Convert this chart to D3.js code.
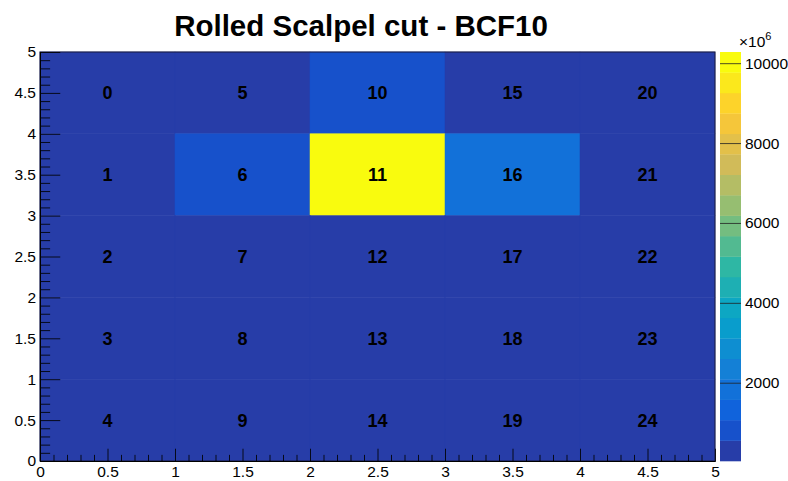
<!DOCTYPE html>
<html>
<head>
<meta charset="utf-8">
<script src="https://cdn.jsdelivr.net/npm/d3@7"></script>
<style>
  html, body { margin: 0; padding: 0; background: #fff; }
  svg { display: block; font-family: "Liberation Sans", Helvetica, Arial, sans-serif; }
</style>
</head>
<body>
<svg id="chart" width="788" height="481"></svg>
<script>
// Bin edges along each axis
const xEdges = [0, 1, 2, 3, 4, 5];
const yEdges = [0, 1, 2, 3, 4, 5];

// Cell contents (units of 10^6), rows from top (y 4–5) to bottom (y 0–1), columns x 0–5
const cellValues = [
  [55, 60, 820, 70, 50],
  [60, 880, 10280, 1830, 65],
  [45, 55, 300, 60, 45],
  [40, 45, 50, 45, 40],
  [42, 48, 52, 47, 41]
];

// Channel numbers printed in each cell, same layout
const cellLabels = [
  [0, 5, 10, 15, 20],
  [1, 6, 11, 16, 21],
  [2, 7, 12, 17, 22],
  [3, 8, 13, 18, 23],
  [4, 9, 14, 19, 24]
];

const axisTicks = [0, 0.5, 1, 1.5, 2, 2.5, 3, 3.5, 4, 4.5, 5];
const zTicks = [2000, 4000, 6000, 8000, 10000];
const title = "Rolled Scalpel cut - BCF10";

// Bird palette stops
const birdStops = [0.0, 0.125, 0.25, 0.375, 0.5, 0.625, 0.75, 0.875, 1.0];
const birdR = [0.2082, 0.0592, 0.0780, 0.0232, 0.1802, 0.5301, 0.8186, 0.9956, 0.9764];
const birdG = [0.1664, 0.3599, 0.5041, 0.6419, 0.7178, 0.7492, 0.7328, 0.7862, 0.9832];
const birdB = [0.5293, 0.8684, 0.8385, 0.7914, 0.6425, 0.4662, 0.3499, 0.1968, 0.0539];
const nColors = 255, nLevels = 20;

const birdColor = d3.scaleLinear()
  .domain(birdStops)
  .range(birdStops.map((s, i) => d3.rgb(birdR[i] * 255, birdG[i] * 255, birdB[i] * 255)))
  .interpolate(d3.interpolateRgb);
const palette = d3.range(nColors).map(i => birdColor(i / (nColors - 1)));
const levelColors = d3.range(nLevels).map(i => palette[Math.floor((i + 0.99) * nColors / nLevels)]);

const svg = d3.select("#chart");
const frame = { left: 40, right: 715, top: 52, bottom: 461 };
const bar = { left: 720, right: 741 };

const x = d3.scaleLinear().domain([xEdges[0], xEdges[xEdges.length - 1]]).range([frame.left, frame.right]);
const y = d3.scaleLinear().domain([yEdges[0], yEdges[yEdges.length - 1]]).range([frame.bottom, frame.top]);

const flat = cellValues.flat();
const zMin = d3.min(flat), zMax = d3.max(flat);
const z = d3.scaleLinear().domain([zMin, zMax]).range([frame.bottom, frame.top]);
const level = v => Math.min(nLevels - 1, Math.floor((v - zMin) / (zMax - zMin) * nLevels));

// Cells
const cells = [];
cellValues.forEach((row, r) => row.forEach((v, c) => {
  const yHi = yEdges[yEdges.length - 1 - r], yLo = yEdges[yEdges.length - 2 - r];
  cells.push({ x0: xEdges[c], x1: xEdges[c + 1], y0: yLo, y1: yHi, v, label: cellLabels[r][c] });
}));

svg.append("g").selectAll("rect").data(cells).join("rect")
  .attr("x", d => x(d.x0))
  .attr("y", d => y(d.y1))
  .attr("width", d => x(d.x1) - x(d.x0))
  .attr("height", d => y(d.y0) - y(d.y1))
  .attr("fill", d => levelColors[level(d.v)])
  .attr("stroke", d => levelColors[level(d.v)])
  .attr("stroke-width", 0.5);

svg.append("g").selectAll("text").data(cells).join("text")
  .attr("x", d => x((d.x0 + d.x1) / 2))
  .attr("y", d => y((d.y0 + d.y1) / 2))
  .attr("dy", "0.36em")
  .attr("text-anchor", "middle")
  .attr("font-weight", "bold")
  .attr("font-size", 18)
  .attr("fill", "#000")
  .text(d => d.label);

// Frame
svg.append("rect")
  .attr("x", frame.left).attr("y", frame.top)
  .attr("width", frame.right - frame.left).attr("height", frame.bottom - frame.top)
  .attr("fill", "none").attr("stroke", "#1a1a3a").attr("stroke-width", 1);

const fmt = d3.format("~g");
const minorTicks = d3.range(0, 51).map(i => i / 10).filter(t => Math.abs(t * 2 - Math.round(t * 2)) > 1e-6);
const frameW = frame.right - frame.left, frameH = frame.bottom - frame.top;
const xTickLen = 0.03 * frameH, yTickLen = 0.03 * frameW;

function styleAxis(g) {
  g.select(".domain").attr("stroke", "#000");
  g.selectAll(".tick line").attr("stroke", "#000").attr("stroke-opacity", 0.85);
  g.selectAll(".tick text").attr("fill", "#000").attr("font-size", 15.5)
    .attr("font-family", "Liberation Sans, Helvetica, Arial, sans-serif");
}

// X axis
svg.append("g").attr("transform", `translate(0,${frame.bottom})`)
  .call(d3.axisBottom(x).tickValues(axisTicks).tickFormat(fmt).tickSizeInner(-xTickLen).tickSizeOuter(0).tickPadding(5))
  .call(styleAxis);
svg.append("g").attr("transform", `translate(0,${frame.bottom})`)
  .call(d3.axisBottom(x).tickValues(minorTicks).tickFormat("").tickSizeInner(-xTickLen / 2).tickSizeOuter(0))
  .call(styleAxis);

// Y axis
svg.append("g").attr("transform", `translate(${frame.left},0)`)
  .call(d3.axisLeft(y).tickValues(axisTicks).tickFormat(fmt).tickSizeInner(-yTickLen).tickSizeOuter(0).tickPadding(4))
  .call(styleAxis);
svg.append("g").attr("transform", `translate(${frame.left},0)`)
  .call(d3.axisLeft(y).tickValues(minorTicks).tickFormat("").tickSizeInner(-yTickLen / 2).tickSizeOuter(0))
  .call(styleAxis);

// Colour bar
const bands = d3.range(nLevels).map(i => ({
  lo: zMin + (zMax - zMin) * i / nLevels,
  hi: zMin + (zMax - zMin) * (i + 1) / nLevels,
  color: levelColors[i]
}));
svg.append("g").selectAll("rect").data(bands).join("rect")
  .attr("x", bar.left)
  .attr("y", d => z(d.hi))
  .attr("width", bar.right - bar.left)
  .attr("height", d => z(d.lo) - z(d.hi) + 0.3)
  .attr("fill", d => d.color);

const zAxis = svg.append("g").attr("transform", `translate(${bar.right},0)`)
  .call(d3.axisRight(z).tickValues(zTicks).tickFormat(d3.format("d")).tickSizeInner(-(bar.right - bar.left)).tickSizeOuter(0).tickPadding(4))
  .call(styleAxis);
zAxis.select(".domain").remove();
zAxis.selectAll(".tick line").attr("stroke", "#222").attr("stroke-opacity", 0.8);

// Exponent label
const expo = svg.append("text").attr("x", 739).attr("y", 47).attr("font-size", 15.5).attr("fill", "#000");
expo.append("tspan").text("\u00d710");
expo.append("tspan").attr("dy", -7).attr("font-size", 11).text("6");

// Title
svg.append("text")
  .attr("x", 361).attr("y", 36)
  .attr("text-anchor", "middle")
  .attr("font-weight", "bold")
  .attr("font-size", 29.5)
  .attr("fill", "#000")
  .text(title);
</script>
</body>
</html>
